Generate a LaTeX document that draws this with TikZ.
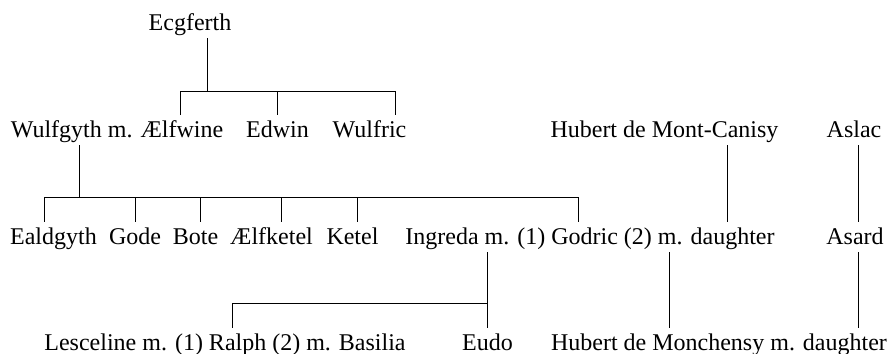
\documentclass[tikz,border=0pt]{standalone}
\usepackage{fontspec}
\setmainfont{Liberation Serif}
\usepackage{tikz}
\usetikzlibrary{positioning, calc}

\begin{document}
\begin{tikzpicture}[
  x=0.5pt, y=-0.5pt,
  font=\fontsize{12pt}{14pt}\selectfont,
  person/.style = {inner sep=0pt, outer sep=2pt, anchor=base,
                   text height=9pt, text depth=2pt},
  line/.style   = {line width=0.5pt},
]
\useasboundingbox (0,0) rectangle (891,354);

%% Generation 1
\node[person] (ecg) at (190, 30) {Ecgferth};

%% Generation 2
\node[person] (wulfgyth) at (117, 137) {Wulfgyth m. \AE lfwine};
\node[person] (edwin)    at (277.5, 137) {Edwin};
\node[person] (wulfric)  at (369.5, 137) {Wulfric};
\node[person] (canisy)   at (664.5, 137) {Hubert de Mont-Canisy};
\node[person] (aslac)    at (854, 137) {Aslac};

%% Generation 3
\node[person] (ealdgyth)  at (53.5, 244) {Ealdgyth};
\node[person] (gode)      at (135, 244) {Gode};
\node[person] (bote)      at (195.5, 244) {Bote};
\node[person] (aelfketel) at (271.5, 244) {\AE lfketel};
\node[person] (ketel)     at (352.5, 244) {Ketel};
\node[person] (godric)    at (590, 244) {Ingreda m. (1) Godric (2) m. daughter};
\node[person] (asard)     at (855, 244) {Asard};

%% Generation 4
\node[person] (ralph)     at (225, 350) {Lesceline m. (1) Ralph (2) m. Basilia};
\node[person] (eudo)      at (487.5, 350) {Eudo};
\node[person] (monchensy) at (719, 350) {Hubert de Monchensy m. daughter};

%% Ecgferth's children
\coordinate (ecg-out) at (207, 91);
\coordinate (aelfwine-in) at (180, 91);
\coordinate (wulfric-in)  at (395, 91);
\draw[line] (ecg.south -| ecg-out) -- (ecg-out);
\draw[line] (wulfgyth.north -| aelfwine-in) -- (aelfwine-in) -- (wulfric-in)
            -- (wulfric.north -| wulfric-in);
\draw[line] (edwin.north |- ecg-out) -- (edwin.north);

%% Wulfgyth and Aelfwine's children
\coordinate (wulfgyth-out) at (79, 197);
\draw[line] (wulfgyth.south -| wulfgyth-out) -- (wulfgyth-out);
\foreach \n/\x in {ealdgyth/44, gode/135, bote/200, aelfketel/281, ketel/357, godric/578} {
  \coordinate (\n-in) at (\x, 197);
  \draw[line] (\n-in) -- (\n-in |- \n.north);
}
\draw[line] (ealdgyth-in) -- (godric-in);

%% Mont-Canisy and Aslac lines
\coordinate (canisy-out) at (727, 137);
\coordinate (aslac-out)  at (858, 137);
\draw[line] (canisy.south -| canisy-out) -- (godric.north -| canisy-out);
\draw[line] (aslac.south -| aslac-out) -- (asard.north -| aslac-out);

%% Ingreda and Godric's children
\coordinate (ralph-in) at (232, 303);
\draw[line] (eudo.north |- godric.south) -- (eudo.north);
\draw[line] (eudo.north |- ralph-in) -- (ralph-in) -- (ralph-in |- ralph.north);

%% Godric and daughter; Asard
\coordinate (godric-out) at (669, 244);
\draw[line] (godric.south -| godric-out) -- (monchensy.north -| godric-out);
\draw[line] (asard.south -| aslac-out) -- (monchensy.north -| aslac-out);

\end{tikzpicture}
\end{document}
